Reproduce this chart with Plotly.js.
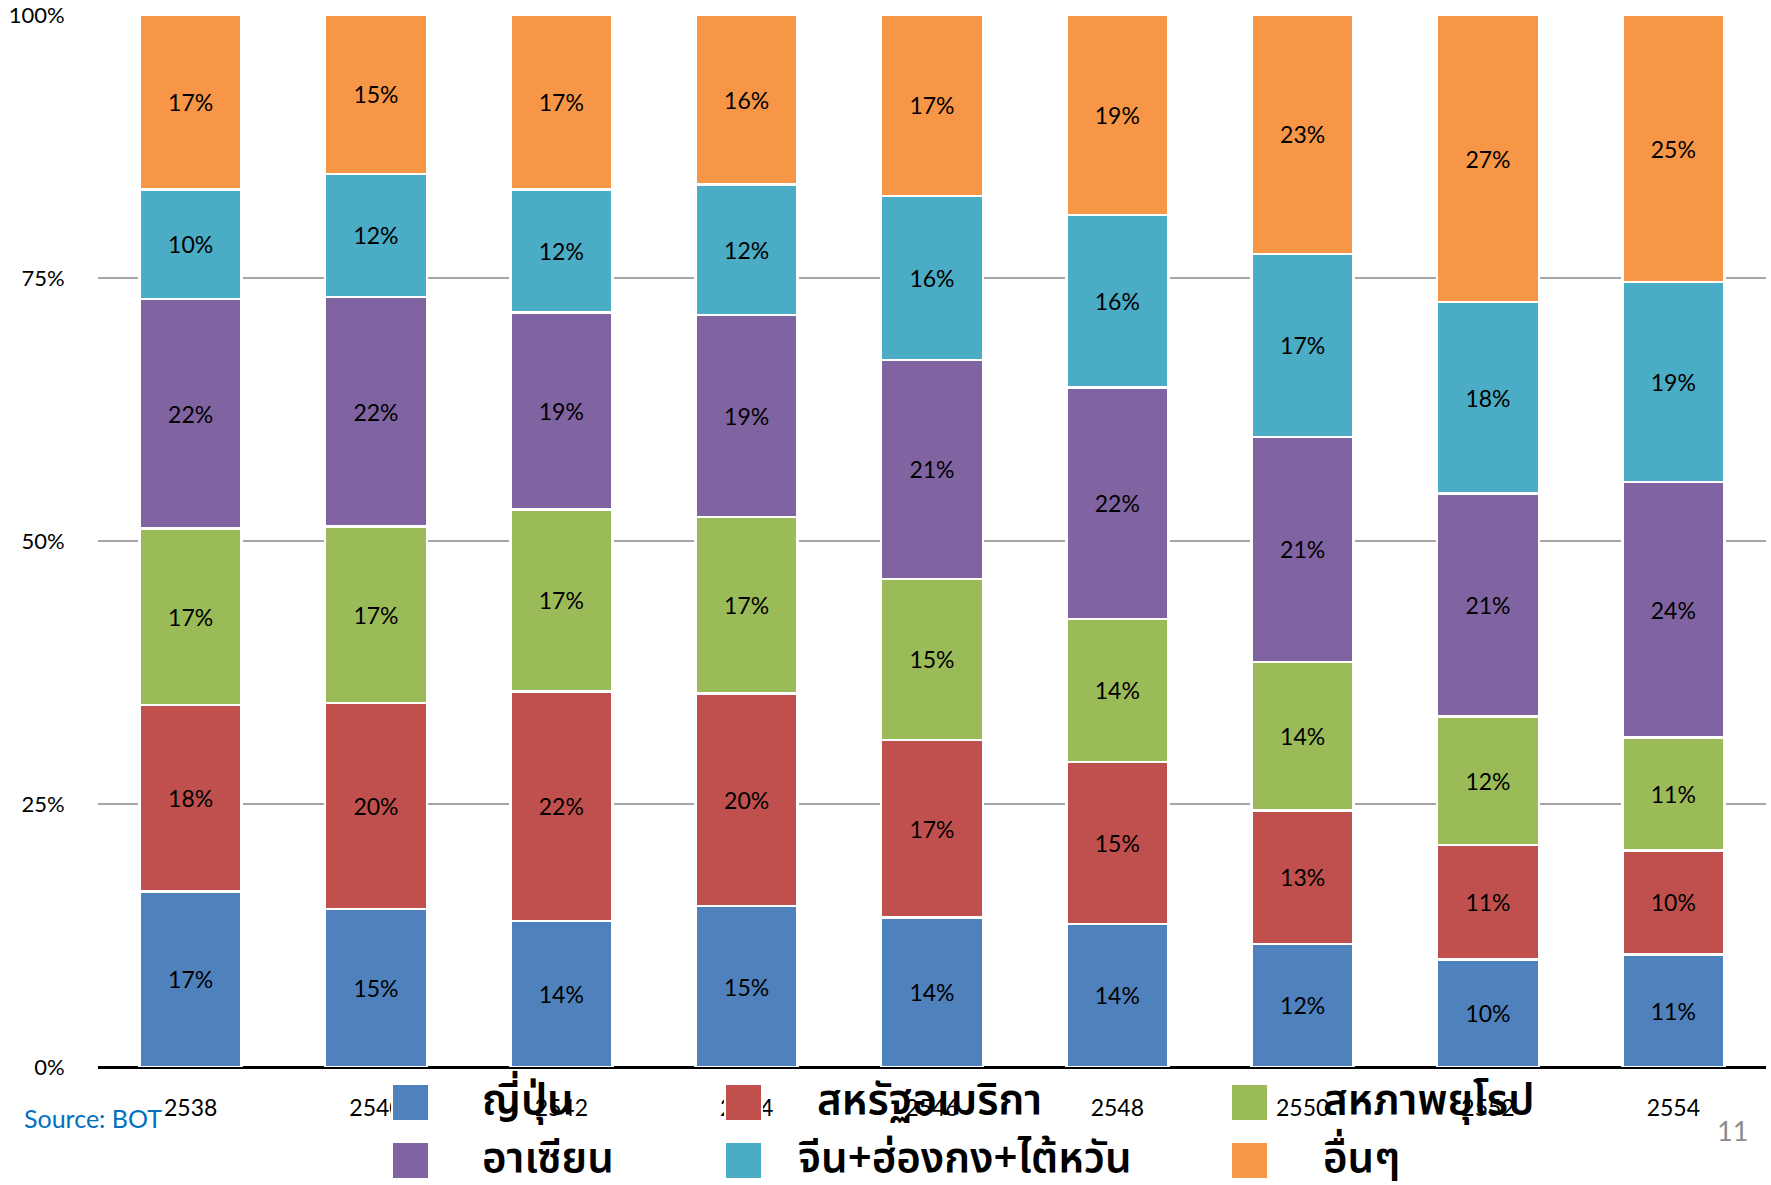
<!DOCTYPE html>
<html>
<head>
<meta charset="utf-8">
<script src="https://cdn.plot.ly/plotly-3.0.1.min.js"></script>
<style>html,body{margin:0;padding:0;background:#fff}#chart{width:1771px;height:1185px}</style>
</head>
<body>
<div id="chart"></div>
<script>
// ---- data ----
const years = ['2538','2540','2542','2544','2546','2548','2550','2552','2554'];
const japan  = [16.7, 15.0, 13.9, 15.3, 14.2, 13.6, 11.7, 10.2, 10.7];
const usa    = [17.7, 19.6, 21.8, 20.2, 16.9, 15.4, 12.7, 10.9, 9.9];
const eu     = [16.8, 16.8, 17.3, 16.8, 15.3, 13.6, 14.1, 12.2, 10.7];
const asean  = [21.8, 21.8, 18.7, 19.2, 20.8, 22.0, 21.4, 21.2, 24.3];
const china  = [10.4, 11.7, 11.7, 12.4, 15.6, 16.4, 17.4, 18.2, 19.0];
const others = [16.6, 15.1, 16.6, 16.1, 17.2, 19.0, 22.7, 27.3, 25.4];
const seriesNames = ['ญี่ปุ่น','สหรัฐอเมริกา','สหภาพยุโรป','อาเซียน','จีน+ฮ่องกง+ไต้หวัน','อื่นๆ'];
const yTickVals = [0, 25, 50, 75, 100];
const yTickText = ['0%','25%','50%','75%','100%'];
const sourceText = 'Source: BOT';
const pageNumber = '11';

// ---- styling ----
const seriesValues = [japan, usa, eu, asean, china, others];
const colors = ['#4F81BD','#C0504D','#9BBB59','#8064A2','#4BACC6','#F79646'];
const latin = 'Lato, "Open Sans", "Noto Sans", sans-serif';
const thai = '"Noto Sans Thai", "Noto Sans Thai UI", Loma, Garuda, Sarabun, "Noto Sans", sans-serif';

const W = 1771, H = 1185;
const M = {l: 98, r: 5, t: 15, b: 118};
const PW = W - M.l - M.r, PH = H - M.t - M.b;
const px = x => (x - M.l) / PW;
const py = y => (H - M.b - y) / PH;

const traces = seriesValues.map((vals, i) => ({
  type: 'bar',
  x: years,
  y: vals,
  name: seriesNames[i],
  marker: {color: colors[i], line: {color: '#ffffff', width: 2.5}},
  texttemplate: '%{y:.0f}%',
  textposition: 'inside',
  insidetextanchor: 'middle',
  textangle: 0,
  constraintext: 'none',
  textfont: {family: latin, size: 23, color: '#000000'},
  hoverinfo: 'skip',
  showlegend: false
}));

// manual legend (large swatches)
const swX = [392, 725, 1231];
const swY = [1084, 1142];
const sw = 37;
const textX = [[480, 815, 1321], [480, 796, 1321]];
const shapes = [];
const annotations = [];
seriesNames.forEach((name, i) => {
  const r = Math.floor(i / 3), c = i % 3;
  shapes.push({
    type: 'rect', xref: 'paper', yref: 'paper', layer: 'above',
    x0: px(swX[c]), x1: px(swX[c] + sw), y0: py(swY[r] + sw), y1: py(swY[r]),
    fillcolor: colors[i], line: {color: '#ffffff', width: 2}
  });
  annotations.push({
    xref: 'paper', yref: 'paper', x: px(textX[r][c]), y: py(swY[r] + sw / 2 - 2),
    xanchor: 'left', yanchor: 'middle', showarrow: false,
    text: name, font: {family: thai, size: 42, weight: 600, color: '#000000'}
  });
});
annotations.push({
  xref: 'paper', yref: 'paper', x: px(22), y: py(1118), xanchor: 'left', yanchor: 'middle',
  showarrow: false, text: sourceText, font: {family: latin, size: 25, color: '#0070C0'}
});
annotations.push({
  xref: 'paper', yref: 'paper', x: px(1732), y: py(1130), xanchor: 'center', yanchor: 'middle',
  showarrow: false, text: pageNumber, font: {family: latin, size: 27, color: '#8C8C8C'}
});

const layout = {
  width: W, height: H,
  margin: M,
  paper_bgcolor: '#ffffff', plot_bgcolor: '#ffffff',
  barmode: 'stack',
  bargap: 0.45,
  showlegend: false,
  font: {family: latin, color: '#000000'},
  xaxis: {
    type: 'category',
    showgrid: false, zeroline: false,
    showline: false,
    ticks: 'outside', ticklen: 20, tickcolor: 'rgba(0,0,0,0)',
    tickfont: {family: latin, size: 23, color: '#000000'}
  },
  yaxis: {
    range: [0, 100],
    tickvals: yTickVals, ticktext: yTickText,
    showgrid: true, gridcolor: '#a6a6a6', gridwidth: 2,
    zeroline: true, zerolinecolor: '#000000', zerolinewidth: 3,
    ticks: 'outside', ticklen: 28, tickcolor: 'rgba(0,0,0,0)',
    tickfont: {family: latin, size: 22, color: '#000000'}
  },
  shapes: shapes,
  annotations: annotations
};

Plotly.newPlot('chart', traces, layout, {displayModeBar: false, staticPlot: true});
</script>
</body>
</html>
